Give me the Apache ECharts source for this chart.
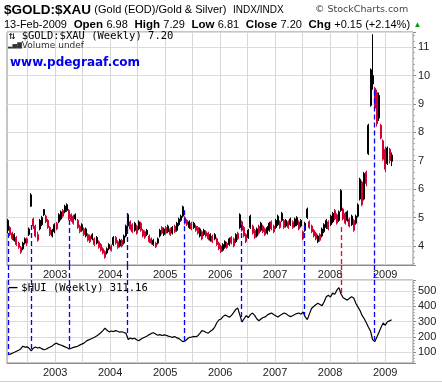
<!DOCTYPE html>
<html><head><meta charset="utf-8">
<script src="https://cdn.jsdelivr.net/npm/echarts@6/dist/echarts.min.js"></script>
<style>html,body{margin:0;padding:0;background:#fff}#c{width:442px;height:384px}</style>
</head><body><div id="c"></div>
<script>
// ---- data (bi-weekly bars) ----
const firstBarDate = '2002-02-22';
const barStepDays = 14;
const goldOpen = [
4.55,4.65,4.45,4.2,4.3,4.1,3.95,3.9,4.1,4.25,
4.4,5.4,4.95,4.7,4.4,4.6,4.75,5.1,5.05,4.9,
4.65,4.35,4.5,4.8,4.85,4.95,5.25,5.2,5.25,5.25,
5.1,5.05,4.95,4.9,4.7,4.55,4.6,4.35,4.4,4.35,
4.25,4.25,4.1,4.15,4.05,3.9,3.8,3.75,3.9,4.0,
4.05,4.3,4.15,4.0,4.2,4.1,4.35,4.7,4.85,4.75,
4.55,4.7,4.6,4.8,4.55,4.5,4.4,4.35,4.25,4.05,
4.1,4.1,4.35,4.65,4.4,4.65,4.5,4.6,4.45,4.7,
4.55,4.75,4.9,5.05,5.0,4.9,4.65,4.8,4.65,4.7,
4.65,4.35,4.5,4.4,4.5,4.45,4.2,4.35,4.25,4.25,
4.1,4.0,3.85,3.95,4.1,4.05,4.3,4.25,4.15,4.45,
4.65,4.85,4.65,4.4,4.3,4.65,4.7,4.55,4.35,4.7,
4.55,4.7,4.6,4.45,4.55,4.85,4.7,4.65,4.75,4.85,
4.9,4.9,4.7,4.85,4.75,4.85,4.7,4.75,4.85,4.7,
4.5,4.55,5.0,4.85,4.7,4.55,4.45,4.15,4.4,4.35,
4.5,4.65,4.85,4.75,4.85,5.25,5.1,4.9,5.25,5.3,
5.15,4.9,4.95,4.75,4.9,4.8,5.05,5.65,6.25,5.65,
6.6,7.25,8.95,9.7,9.55,9.4,8.5,8.25,7.7,7.4,
6.9,7.4,6.98];
const goldClose = [
4.9,4.4,4.25,4.4,4.05,3.95,3.78,4.1,4.25,4.1,
4.6,5.8,4.7,4.35,4.2,4.9,5.0,5.28,4.85,4.65,
4.4,4.55,4.75,4.6,5.1,5.2,5.05,5.4,5.45,4.95,
4.9,4.8,5.1,4.65,4.5,4.75,4.4,4.6,4.2,4.15,
4.4,4.05,4.3,3.95,3.85,3.75,3.6,3.9,4.05,3.85,
4.3,4.1,3.95,4.2,4.0,4.35,4.7,5.1,4.6,4.5,
4.8,4.45,4.85,4.55,4.35,4.3,4.55,4.15,4.1,4.2,
3.97,4.25,4.55,4.45,4.6,4.45,4.7,4.4,4.65,4.5,
4.8,4.95,5.05,5.38,4.8,4.75,4.85,4.6,4.8,4.55,
4.45,4.6,4.25,4.55,4.35,4.25,4.4,4.15,4.4,4.05,
3.9,3.8,4.05,4.15,3.95,4.25,4.1,4.0,4.4,4.25,
5.1,4.55,4.35,4.15,4.55,5.05,4.45,4.3,4.6,4.45,
4.8,4.5,4.4,4.65,4.8,4.6,4.5,4.9,5.05,4.65,
5.15,4.65,4.9,4.65,4.95,4.65,4.95,5.0,4.6,4.9,
4.25,4.8,5.3,4.65,4.5,4.35,4.25,4.35,4.2,4.6,
4.75,4.9,4.6,5.05,5.15,4.95,4.8,5.2,5.95,4.95,
4.8,5.2,4.7,5.05,4.55,5.05,5.45,6.35,5.45,6.55,
6.2,8.25,10.2,10.0,8.85,8.3,9.3,7.8,7.05,6.7,
7.45,7.0,7.2];
const goldLow = [
4.45,4.35,4.2,4.15,4.0,3.9,3.72,3.85,4.05,4.0,
4.35,5.37,4.6,4.3,4.15,4.55,4.7,5.05,4.8,4.6,
4.35,4.3,4.45,4.55,4.8,4.9,5.0,5.15,5.2,4.9,
4.85,4.75,4.9,4.6,4.45,4.5,4.35,4.3,4.15,4.1,
4.2,4.0,4.05,3.9,3.8,3.7,3.55,3.7,3.85,3.8,
4.0,4.05,3.9,3.95,3.95,4.05,4.3,4.6,4.55,4.45,
4.5,4.4,4.55,4.5,4.3,4.25,4.35,4.1,4.05,4.0,
3.93,4.05,4.3,4.4,4.35,4.4,4.45,4.35,4.4,4.45,
4.5,4.7,4.85,5.0,4.75,4.7,4.6,4.55,4.6,4.5,
4.4,4.3,4.2,4.35,4.3,4.2,4.15,4.1,4.2,4.0,
3.85,3.75,3.8,3.9,3.9,4.0,4.05,3.95,4.1,4.2,
4.6,4.5,4.3,4.1,4.25,4.6,4.4,4.25,4.3,4.4,
4.5,4.45,4.35,4.4,4.5,4.55,4.45,4.6,4.7,4.6,
4.85,4.6,4.65,4.6,4.7,4.6,4.65,4.7,4.55,4.65,
4.2,4.5,4.95,4.6,4.45,4.3,4.2,4.1,4.15,4.3,
4.45,4.6,4.55,4.7,4.8,4.9,4.75,4.85,5.2,4.9,
4.75,4.85,4.65,4.7,4.5,4.75,5.0,5.6,5.4,5.6,
6.1,7.2,8.9,9.5,8.8,8.2,8.4,7.75,7.0,6.6,
6.85,6.9,6.81];
const goldHigh = [
4.95,4.7,4.5,4.45,4.35,4.15,4.0,4.15,4.3,4.3,
4.65,5.86,5.0,4.75,4.5,4.95,5.05,5.3,5.1,4.95,
4.7,4.6,4.8,4.85,5.15,5.25,5.3,5.45,5.5,5.3,
5.15,5.1,5.15,4.95,4.75,4.8,4.65,4.65,4.45,4.4,
4.45,4.3,4.35,4.2,4.1,3.95,3.85,3.95,4.1,4.05,
4.35,4.35,4.2,4.25,4.25,4.4,4.75,5.15,4.9,4.8,
4.85,4.75,4.9,4.85,4.6,4.55,4.6,4.4,4.3,4.25,
4.15,4.3,4.6,4.7,4.65,4.7,4.75,4.65,4.7,4.75,
4.85,5.0,5.1,5.42,5.05,4.95,4.9,4.85,4.85,4.75,
4.7,4.65,4.55,4.6,4.55,4.5,4.45,4.4,4.45,4.3,
4.15,4.05,4.1,4.2,4.15,4.3,4.35,4.3,4.45,4.5,
5.15,4.9,4.7,4.45,4.6,5.1,4.75,4.6,4.65,4.75,
4.85,4.75,4.65,4.7,4.85,4.9,4.75,4.95,5.1,4.9,
5.2,4.95,4.95,4.9,5.0,4.9,5.0,5.05,4.9,4.95,
4.55,4.85,5.35,4.9,4.75,4.6,4.5,4.4,4.45,4.65,
4.8,4.95,4.9,5.1,5.2,5.3,5.15,5.25,6.0,5.35,
5.2,5.25,5.0,5.1,4.95,5.1,5.5,6.4,6.3,6.6,
6.65,8.3,10.25,11.45,9.6,9.5,9.4,8.3,7.75,7.5,
7.5,7.45,7.29];
const huiClose = [
82,86,92,98,105,112,120,138,132,134,
124,108,125,133,126,130,122,115,118,126,
133,140,152,158,150,146,140,134,128,120,
125,130,134,138,145,152,158,170,178,184,
190,197,205,215,226,240,256,242,232,238,
234,240,236,230,233,228,222,182,192,186,
190,180,174,184,192,198,205,214,222,226,
218,210,214,208,212,210,204,200,196,202,
194,188,178,168,172,185,196,198,202,200,
206,222,240,236,228,224,236,246,262,290,
310,316,332,342,336,328,340,358,378,388,
342,298,318,338,326,345,355,340,318,305,
316,326,330,342,350,356,346,338,330,340,
348,356,350,340,332,338,346,352,356,348,
362,330,312,350,385,398,410,420,412,404,
430,462,472,460,486,478,505,522,480,456,
448,440,452,462,454,420,396,372,340,318,
292,262,236,180,168,198,230,262,290,275,
298,304,311.16];
// annotation lines (dates, where they start on the gold panel, where they end on the HUI panel)
const annotationDates = ['2002-02-20','2002-07-28','2003-04-04','2004-04-27','2005-05-08','2006-05-19','2007-07-12','2008-03-14','2008-10-19'];
const annotationGoldTop = [4.46,4.74,4.91,5.16,5.26,4.74,4.74,4.67,9.47];
const annotationHuiEnd = [80,102,122,200,166,297,343,487,179];
const annotationColors = ['#0000ff','#0000ff','#0000ff','#0000ff','#0000ff','#0000ff','#0000ff','#ff0000','#0000ff'];
// vertical grid lines every half year
const gridLineDates = ['2002-07-01','2003-01-01','2003-07-01','2004-01-01','2004-07-01','2005-01-01','2005-07-01','2006-01-01','2006-07-01','2007-01-01','2007-07-01','2008-01-01','2008-07-01','2009-01-01'];
const xStart = '2002-02-15', xEnd = '2009-07-05';
const goldRange = [3.33, 11.53];
const huiRange = [28, 572];

// ---- build ----
const DAY = 86400000, YEAR = 365 * DAY;
const t0 = Date.parse(firstBarDate);
const barTimes = goldClose.map((_, i) => t0 + i * barStepDays * DAY);
const goldRows = barTimes.map((t, i) => [t, goldOpen[i], goldClose[i], goldLow[i], goldHigh[i]]);
const huiRows = barTimes.map((t, i) => [t, huiClose[i]]);
const xMin = Date.parse(xStart), xMax = Date.parse(xEnd);

const dash = c => ({color: c, type: [5, 3], width: 1.3});
const mainAnn = annotationDates.map((d, i) => [
  {coord: [Date.parse(d), annotationGoldTop[i]], lineStyle: dash(annotationColors[i])},
  {coord: [Date.parse(d), goldRange[0]]}]);
const huiAnn = annotationDates.map((d, i) => [
  {coord: [Date.parse(d), huiRange[1]], lineStyle: dash(annotationColors[i])},
  {coord: [Date.parse(d), annotationHuiEnd[i]]}]);
const gapAnn = annotationDates.map((d, i) => [
  {coord: [Date.parse(d), 1], lineStyle: dash(annotationColors[i])},
  {coord: [Date.parse(d), 0]}]);
const vGrid = gridLineDates.map(d => ({xAxis: Date.parse(d)}));

const FONT = 'Liberation Sans';
const axisLbl = {color: '#222', fontSize: 11, fontFamily: FONT};
function xAx(g, show) {
  return {type: 'time', gridIndex: g, min: xMin, max: xMax, show: show,
    minInterval: YEAR, maxInterval: YEAR,
    axisLine: {show: true, lineStyle: {color: '#8c8c8c'}},
    axisTick: {show: false}, splitLine: {show: false},
    axisLabel: Object.assign({formatter: '{yyyy}', showMinLabel: false, showMaxLabel: false, margin: 4}, axisLbl)};
}
function yAx(g, range, step) {
  return {type: 'value', gridIndex: g, position: 'right', min: range[0], max: range[1],
    splitNumber: Math.round((range[1] - range[0]) / step), minInterval: step, maxInterval: step,
    axisLine: {show: false},
    axisTick: {show: true, length: 3, lineStyle: {color: '#8c8c8c'}},
    minorTick: {show: true, splitNumber: 5, length: 2, lineStyle: {color: '#aaa'}},
    splitLine: {show: true, lineStyle: {color: '#dcdcdc', width: 1}},
    axisLabel: Object.assign({showMinLabel: false, showMaxLabel: false, margin: 5}, axisLbl)};
}

const chart = echarts.init(document.getElementById('c'), null, {renderer: 'canvas'});
chart.setOption({
  animation: false,
  useUTC: true,
  backgroundColor: '#fff',
  grid: [
    {left: 7, right: 29, top: 32, height: 233, show: true, borderColor: '#8c8c8c', borderWidth: 1, backgroundColor: '#fff'},
    {left: 7, right: 29, top: 280, height: 83, show: true, borderColor: '#8c8c8c', borderWidth: 1, backgroundColor: '#fff'},
    {left: 7, right: 29, top: 265, height: 15, show: false}
  ],
  xAxis: [xAx(0, true), xAx(1, true), {type: 'time', gridIndex: 2, min: xMin, max: xMax, show: false}],
  yAxis: [yAx(0, goldRange, 1), yAx(1, huiRange, 100), {type: 'value', gridIndex: 2, min: 0, max: 1, show: false}],
  series: [
    {type: 'line', xAxisIndex: 0, yAxisIndex: 0, data: [], z: 1, silent: true,
     markLine: {z: 1, silent: true, symbol: ['none', 'none'], label: {show: false}, lineStyle: {color: '#d6d6d6', type: 'solid', width: 1}, data: vGrid}},
    {type: 'line', xAxisIndex: 1, yAxisIndex: 1, data: [], z: 1, silent: true,
     markLine: {z: 1, silent: true, symbol: ['none', 'none'], label: {show: false}, lineStyle: {color: '#d6d6d6', type: 'solid', width: 1}, data: vGrid}},
    {type: 'candlestick', name: '$GOLD:$XAU', xAxisIndex: 0, yAxisIndex: 0, data: goldRows,
     encode: {x: 0, y: [1, 2, 3, 4]}, barWidth: 1.5, z: 3,
     itemStyle: {color: '#000', color0: '#d40032', borderColor: '#000', borderColor0: '#d40032', borderWidth: 1},
     markLine: {silent: true, symbol: ['none', 'none'], label: {show: false}, data: mainAnn}},
    {type: 'line', name: '$HUI', xAxisIndex: 1, yAxisIndex: 1, data: huiRows, showSymbol: false, z: 3,
     lineStyle: {color: '#000', width: 1.2},
     markLine: {silent: true, symbol: ['none', 'none'], label: {show: false}, data: huiAnn}},
    {type: 'line', xAxisIndex: 2, yAxisIndex: 2, data: [], silent: true,
     markLine: {silent: true, symbol: ['none', 'none'], label: {show: false}, data: gapAnn}}
  ],
  graphic: [
    {type: 'text', left: 4, top: 3, z: 10, style: {
      text: '{t|$GOLD:$XAU} {s|(Gold (EOD)/Gold & Silver)}  {u|INDX/INDX}',
      rich: {t: {fontFamily: FONT, fontWeight: 'bold', fontSize: 13.5, fill: '#000'},
             s: {fontFamily: FONT, fontSize: 11, fill: '#000'},
             u: {fontFamily: FONT, fontSize: 10, fill: '#000'}}}},
    {type: 'text', left: 315, top: 5, z: 10, style: {text: '\u00a9 StockCharts.com', fontFamily: 'DejaVu Sans', fontSize: 9.5, fill: '#444'}},
    {type: 'text', left: 4, top: 19, z: 10, style: {
      text: '{n|13-Feb-2009}  {b|Open} {n|6.98}  {b|High} {n|7.29}  {b|Low} {n|6.81}  {b|Close} {n|7.20}  {b|Chg} {n|+0.15 (+2.14%)} {g|\u25b2}',
      rich: {n: {fontFamily: FONT, fontSize: 11, fill: '#000'},
             b: {fontFamily: FONT, fontSize: 11.5, fontWeight: 'bold', fill: '#000'},
             g: {fontFamily: FONT, fontSize: 8, fill: '#00a000'}}}},
    {type: 'text', left: 9, top: 31, z: 10, style: {text: '\u21c5 $GOLD:$XAU (Weekly) 7.20', fontFamily: 'DejaVu Sans Mono', fontSize: 10.5, fill: '#000'}},
    {type: 'text', left: 8, top: 41, z: 10, style: {text: '{i|\u2582\u2585\u2587}{v|Volume undef}',
      rich: {i: {fontFamily: 'DejaVu Sans', fontSize: 6, fill: '#333'}, v: {fontFamily: 'DejaVu Sans', fontSize: 9, fill: '#333'}}}},
    {type: 'text', left: 10, top: 57, z: 10, style: {text: 'www.pdegraaf.com', fontFamily: 'DejaVu Sans', fontWeight: 'bold', fontSize: 12, fill: '#0000ee'}},
    {type: 'text', left: 8, top: 282, z: 10, style: {text: '{l|\u2014} {v|$HUI (Weekly) 311.16}',
      rich: {l: {fontFamily: 'DejaVu Sans', fontSize: 10, fontWeight: 'bold', fill: '#000'}, v: {fontFamily: 'DejaVu Sans Mono', fontSize: 10.5, fill: '#000'}}}},
    {type: 'line', z: 10, shape: {x1: 0, y1: 381.5, x2: 442, y2: 381.5}, style: {stroke: '#cfcfcf', lineWidth: 1}}
  ]
});
</script></body></html>
